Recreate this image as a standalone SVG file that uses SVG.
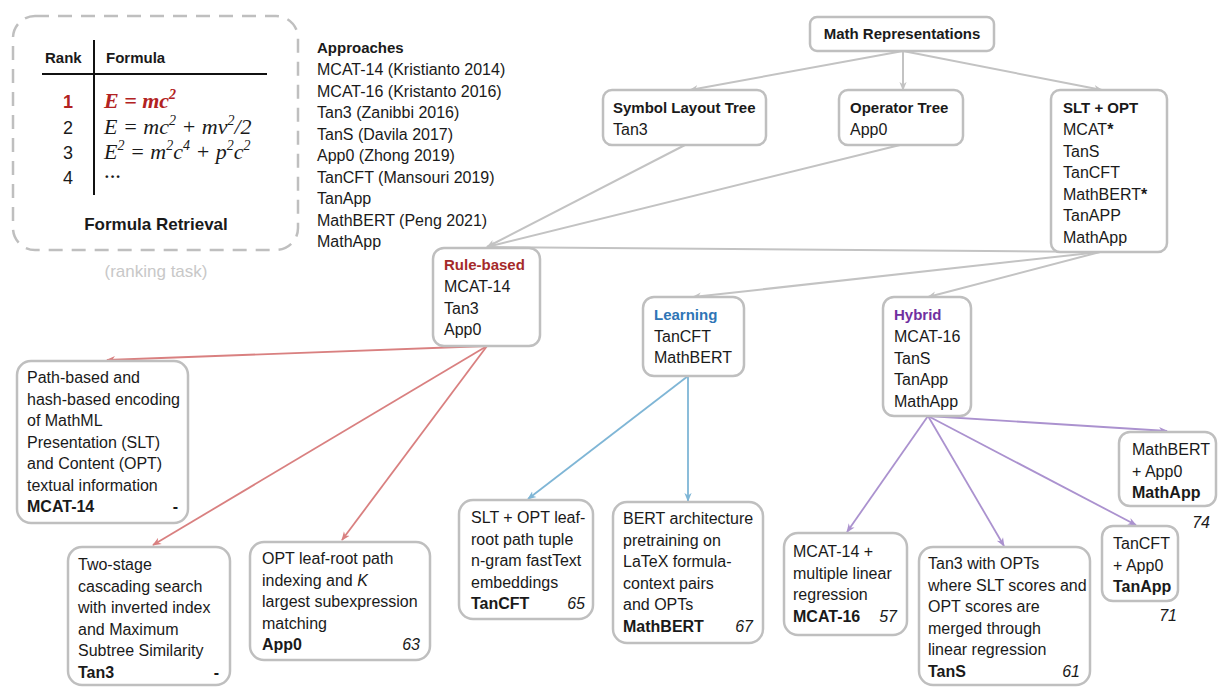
<svg xmlns="http://www.w3.org/2000/svg" width="1223" height="697" viewBox="0 0 1223 697">
<defs>
<style>
text{font-family:"Liberation Sans",Arial,sans-serif;font-size:16px;fill:#1a1a1a}
.b{font-weight:bold}
.box{fill:#fff;stroke:#bfbfbf;stroke-width:2.5}
.t{font-size:15px;font-weight:bold}
.it{font-style:italic}
.g{stroke:#c3c3c3;stroke-width:2;fill:none}
.r{stroke:#d98080;stroke-width:1.8;fill:none}
.bl{stroke:#7fb6d6;stroke-width:1.8;fill:none}
.p{stroke:#ab92cf;stroke-width:1.8;fill:none}
.m{font-family:"Liberation Serif","Times New Roman",serif;font-style:italic;font-size:22px}
</style>
<marker id="ag" viewBox="0 0 10 10" refX="9" refY="5" markerWidth="9" markerHeight="9" markerUnits="userSpaceOnUse" orient="auto"><path d="M0,1 L10,5 L0,9 L3,5 Z" fill="#c3c3c3"/></marker>
<marker id="ar" viewBox="0 0 10 10" refX="9" refY="5" markerWidth="9" markerHeight="9" markerUnits="userSpaceOnUse" orient="auto"><path d="M0,1 L10,5 L0,9 L3,5 Z" fill="#d98080"/></marker>
<marker id="ab" viewBox="0 0 10 10" refX="9" refY="5" markerWidth="9" markerHeight="9" markerUnits="userSpaceOnUse" orient="auto"><path d="M0,1 L10,5 L0,9 L3,5 Z" fill="#7fb6d6"/></marker>
<marker id="ap" viewBox="0 0 10 10" refX="9" refY="5" markerWidth="9" markerHeight="9" markerUnits="userSpaceOnUse" orient="auto"><path d="M0,1 L10,5 L0,9 L3,5 Z" fill="#ab92cf"/></marker>
</defs>
<rect width="1223" height="697" fill="#fff"/>

<g id="connectors">
<line class="g" x1="903" y1="51" x2="690" y2="90" marker-end="url(#ag)"/>
<line class="g" x1="903" y1="51" x2="903" y2="90" marker-end="url(#ag)"/>
<line class="g" x1="903" y1="51" x2="1102" y2="90" marker-end="url(#ag)"/>
<line class="g" x1="685" y1="145" x2="487" y2="247" marker-end="url(#ag)"/>
<line class="g" x1="900" y1="145" x2="487" y2="247" marker-end="url(#ag)"/>
<line class="g" x1="1100" y1="252" x2="487" y2="247" marker-end="url(#ag)"/>
<line class="g" x1="1100" y1="252" x2="693" y2="297" marker-end="url(#ag)"/>
<line class="g" x1="1100" y1="252" x2="928" y2="297" marker-end="url(#ag)"/>
<line class="r" x1="487" y1="346" x2="107" y2="360" marker-end="url(#ar)"/>
<line class="r" x1="487" y1="346" x2="153" y2="545" marker-end="url(#ar)"/>
<line class="r" x1="487" y1="346" x2="342" y2="540" marker-end="url(#ar)"/>
<line class="bl" x1="688" y1="376" x2="528" y2="499" marker-end="url(#ab)"/>
<line class="bl" x1="688" y1="376" x2="688" y2="501" marker-end="url(#ab)"/>
<line class="p" x1="928" y1="416" x2="847" y2="532" marker-end="url(#ap)"/>
<line class="p" x1="928" y1="416" x2="1004" y2="546" marker-end="url(#ap)"/>
<line class="p" x1="928" y1="416" x2="1136" y2="525" marker-end="url(#ap)"/>
<line class="p" x1="928" y1="416" x2="1167" y2="431" marker-end="url(#ap)"/>
</g>

<g id="formula-retrieval">
<rect x="13" y="16" width="285" height="234" rx="22" fill="none" stroke="#bfbfbf" stroke-width="2.5" stroke-dasharray="14 9"/>
<text x="45" y="63" class="b" style="font-size:15px">Rank</text>
<text x="106" y="63" class="b" style="font-size:15px">Formula</text>
<line x1="94" y1="40" x2="94" y2="195" stroke="#111" stroke-width="2"/>
<line x1="42" y1="74" x2="267" y2="74" stroke="#111" stroke-width="2"/>
<text x="68" y="108" text-anchor="middle" class="b" style="font-size:18px;fill:#b22222">1</text>
<text x="68" y="134" text-anchor="middle" style="font-size:18px">2</text>
<text x="68" y="159" text-anchor="middle" style="font-size:18px">3</text>
<text x="68" y="184" text-anchor="middle" style="font-size:18px">4</text>
<text x="104" y="108" class="m" style="fill:#b22222;font-weight:bold">E = mc<tspan dy="-9" font-size="14">2</tspan></text>
<text x="104" y="134" class="m">E = mc<tspan dy="-9" font-size="14">2</tspan><tspan dy="9"> + mv</tspan><tspan dy="-9" font-size="14">2</tspan><tspan dy="9">/2</tspan></text>
<text x="104" y="159" class="m">E<tspan dy="-9" font-size="14">2</tspan><tspan dy="9"> = m</tspan><tspan dy="-9" font-size="14">2</tspan><tspan dy="9">c</tspan><tspan dy="-9" font-size="14">4</tspan><tspan dy="9"> + p</tspan><tspan dy="-9" font-size="14">2</tspan><tspan dy="9">c</tspan><tspan dy="-9" font-size="14">2</tspan></text>
<text x="104" y="182" class="m" style="font-style:normal;font-size:17px;font-weight:bold">···</text>
<text x="156" y="230" text-anchor="middle" class="b" style="font-size:17px">Formula Retrieval</text>
<text x="156" y="277" text-anchor="middle" style="font-size:17px;fill:#c8c8c8">(ranking task)</text>
</g>

<g id="approaches">
<text x="317" y="53" class="b" style="font-size:15px">Approaches</text>
<text x="317" y="75">MCAT-14 (Kristianto 2014)</text>
<text x="317" y="96.5">MCAT-16 (Kristanto 2016)</text>
<text x="317" y="118">Tan3 (Zanibbi 2016)</text>
<text x="317" y="139.5">TanS (Davila 2017)</text>
<text x="317" y="161">App0 (Zhong 2019)</text>
<text x="317" y="182.5">TanCFT (Mansouri 2019)</text>
<text x="317" y="204">TanApp</text>
<text x="317" y="225.5">MathBERT (Peng 2021)</text>
<text x="317" y="247">MathApp</text>
</g>

<g id="math-representations">
<rect class="box" x="810" y="17" width="184" height="34" rx="7"/>
<text x="902" y="39" text-anchor="middle" class="t">Math Representations</text>
</g>

<g id="slt">
<rect class="box" x="603" y="90" width="163" height="55" rx="9"/>
<text x="613" y="113" class="t">Symbol Layout Tree</text>
<text x="613" y="135">Tan3</text>
</g>

<g id="opt">
<rect class="box" x="839" y="90" width="124" height="55" rx="9"/>
<text x="850" y="113" class="t">Operator Tree</text>
<text x="850" y="135">App0</text>
</g>

<g id="slt-opt">
<rect class="box" x="1051" y="90" width="116" height="162" rx="9"/>
<text x="1063" y="113" class="t">SLT + OPT</text>
<text x="1063" y="135">MCAT<tspan class="b">*</tspan></text>
<text x="1063" y="156.5">TanS</text>
<text x="1063" y="178">TanCFT</text>
<text x="1063" y="199.5">MathBERT<tspan class="b">*</tspan></text>
<text x="1063" y="221">TanAPP</text>
<text x="1063" y="242.5">MathApp</text>
</g>

<g id="rule-based">
<rect class="box" x="433" y="248" width="107" height="98" rx="11"/>
<text x="444" y="270" class="t" style="fill:#a52a2a">Rule-based</text>
<text x="444" y="292">MCAT-14</text>
<text x="444" y="313.5">Tan3</text>
<text x="444" y="335">App0</text>
</g>

<g id="learning">
<rect class="box" x="643" y="297" width="101" height="79" rx="11"/>
<text x="654" y="320" class="t" style="fill:#2e75b6">Learning</text>
<text x="654" y="341.5">TanCFT</text>
<text x="654" y="363">MathBERT</text>
</g>

<g id="hybrid">
<rect class="box" x="883" y="297" width="88" height="119" rx="11"/>
<text x="894" y="320" class="t" style="fill:#7030a0">Hybrid</text>
<text x="894" y="342">MCAT-16</text>
<text x="894" y="363.5">TanS</text>
<text x="894" y="385">TanApp</text>
<text x="894" y="406.5">MathApp</text>
</g>

<g id="mcat14">
<rect class="box" x="17" y="361" width="171" height="162" rx="14"/>
<text x="27" y="383">Path-based and</text>
<text x="27" y="404.5">hash-based encoding</text>
<text x="27" y="426">of MathML</text>
<text x="27" y="447.5">Presentation (SLT)</text>
<text x="27" y="469">and Content (OPT)</text>
<text x="27" y="490.5">textual information</text>
<text x="27" y="512" class="b">MCAT-14</text>
<text x="178" y="512" text-anchor="end" class="b">-</text>
</g>

<g id="tan3">
<rect class="box" x="68" y="547" width="162" height="138" rx="14"/>
<text x="78" y="570">Two-stage</text>
<text x="78" y="591.5">cascading search</text>
<text x="78" y="613">with inverted index</text>
<text x="78" y="634.5">and Maximum</text>
<text x="78" y="656">Subtree Similarity</text>
<text x="78" y="677.5" class="b">Tan3</text>
<text x="219" y="677.5" text-anchor="end" class="b">-</text>
</g>

<g id="app0">
<rect class="box" x="250" y="542" width="180" height="118" rx="14"/>
<text x="262" y="564">OPT leaf-root path</text>
<text x="262" y="585.5">indexing and <tspan class="it">K</tspan></text>
<text x="262" y="607">largest subexpression</text>
<text x="262" y="628.5">matching</text>
<text x="262" y="650" class="b">App0</text>
<text x="420" y="650" text-anchor="end" class="it">63</text>
</g>

<g id="tancft">
<rect class="box" x="459" y="500" width="134" height="119" rx="14"/>
<text x="471" y="523">SLT + OPT leaf-</text>
<text x="471" y="544.5">root path tuple</text>
<text x="471" y="566">n-gram fastText</text>
<text x="471" y="587.5">embeddings</text>
<text x="471" y="609" class="b">TanCFT</text>
<text x="585" y="609" text-anchor="end" class="it">65</text>
</g>

<g id="mathbert">
<rect class="box" x="613" y="502" width="150" height="141" rx="14"/>
<text x="623" y="524">BERT architecture</text>
<text x="623" y="545.5">pretraining on</text>
<text x="623" y="567">LaTeX formula-</text>
<text x="623" y="588.5">context pairs</text>
<text x="623" y="610">and OPTs</text>
<text x="623" y="631.5" class="b">MathBERT</text>
<text x="753" y="631.5" text-anchor="end" class="it">67</text>
</g>

<g id="mcat16">
<rect class="box" x="784" y="533" width="123" height="102" rx="14"/>
<text x="793" y="557">MCAT-14 +</text>
<text x="793" y="578.5">multiple linear</text>
<text x="793" y="600">regression</text>
<text x="793" y="621.5" class="b">MCAT-16</text>
<text x="897" y="621.5" text-anchor="end" class="it">57</text>
</g>

<g id="tans">
<rect class="box" x="919" y="547" width="171" height="138" rx="14"/>
<text x="928" y="569">Tan3 with OPTs</text>
<text x="928" y="590.5">where SLT scores and</text>
<text x="928" y="612">OPT scores are</text>
<text x="928" y="633.5">merged through</text>
<text x="928" y="655">linear regression</text>
<text x="928" y="676.5" class="b">TanS</text>
<text x="1080" y="676.5" text-anchor="end" class="it">61</text>
</g>

<g id="tanapp">
<rect class="box" x="1102" y="526" width="76" height="75" rx="11"/>
<text x="1113" y="549">TanCFT</text>
<text x="1113" y="570.5">+ App0</text>
<text x="1113" y="592" class="b">TanApp</text>
<text x="1177" y="621" text-anchor="end" class="it">71</text>
</g>

<g id="mathapp">
<rect class="box" x="1119" y="432" width="97" height="74" rx="11"/>
<text x="1132" y="455">MathBERT</text>
<text x="1132" y="476.5">+ App0</text>
<text x="1132" y="498" class="b">MathApp</text>
<text x="1210" y="528" text-anchor="end" class="it">74</text>
</g>
</svg>
